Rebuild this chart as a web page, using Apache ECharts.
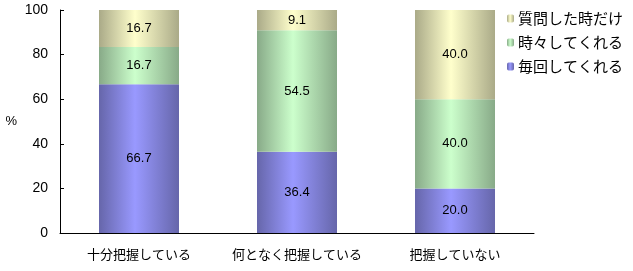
<!DOCTYPE html>
<html><head><meta charset="utf-8">
<script src="https://cdn.jsdelivr.net/npm/echarts@6/dist/echarts.min.js"></script>
<style>html,body{margin:0;padding:0;background:#fff}#c{width:633px;height:271px}</style>
</head><body><div id="c"></div>
<script>
var categories = ['十分把握している', '何となく把握している', '把握していない'];
var seriesNames = ['毎回してくれる', '時々してくれる', '質問した時だけ'];
var everyTime = [66.7, 36.4, 20.0];
var sometimes = [16.7, 54.5, 40.0];
var onlyAsked = [16.7, 9.1, 40.0];
var yTicks = [0, 20, 40, 60, 80, 100];

function grad(edge, center) {
  return new echarts.graphic.LinearGradient(0, 0, 1, 0, [
    {offset: 0, color: edge}, {offset: 0.45, color: center}, {offset: 1, color: edge}
  ]);
}
var colors = [grad('#6666aa', '#9999ff'), grad('#88aa88', '#ccffcc'), grad('#aaaa88', '#ffffcc')];
var values = [everyTime, sometimes, onlyAsked];
var font = '"Liberation Sans", "Noto Sans CJK JP", sans-serif';

var chart = echarts.init(document.getElementById('c'));
chart.setOption({
  animation: false,
  textStyle: {fontFamily: font},
  grid: {left: 60, right: 99, top: 10, bottom: 38},
  legend: {
    orient: 'vertical', left: 502, top: 6,
    itemWidth: 7, itemHeight: 8, itemGap: 9,
    data: [seriesNames[2], seriesNames[1], seriesNames[0]],
    textStyle: {fontSize: 15, color: '#000', fontFamily: '"Noto Sans CJK JP", sans-serif', padding: [0, 0, 0, -1]}
  },
  xAxis: {
    type: 'category', data: categories,
    axisLine: {lineStyle: {color: '#000'}},
    axisTick: {inside: true, length: 4, lineStyle: {color: '#000'}},
    axisLabel: {color: '#000', fontSize: 13, margin: 15, interval: 0, fontFamily: '"Noto Sans CJK JP", sans-serif'}
  },
  yAxis: {
    type: 'value', min: 0, max: 100, interval: 20,
    name: '%', nameLocation: 'middle', nameGap: 43, nameRotate: 0,
    nameTextStyle: {color: '#000', fontSize: 13},
    splitLine: {show: false},
    axisLine: {show: true, lineStyle: {color: '#000'}},
    axisTick: {show: true, inside: true, length: 4, lineStyle: {color: '#000'}},
    axisLabel: {color: '#000', fontSize: 14, margin: 12,
      formatter: function (v) { return yTicks.indexOf(v) >= 0 ? String(v) : ''; }}
  },
  series: values.map(function (d, i) {
    return {
      name: seriesNames[i], type: 'bar', stack: 'a', barWidth: 80,
      data: d,
      itemStyle: {color: colors[i]},
      label: {show: true, position: 'inside', color: '#000', fontSize: 13,
        formatter: function (p) { return p.value.toFixed(1); }}
    };
  })
});
</script></body></html>
